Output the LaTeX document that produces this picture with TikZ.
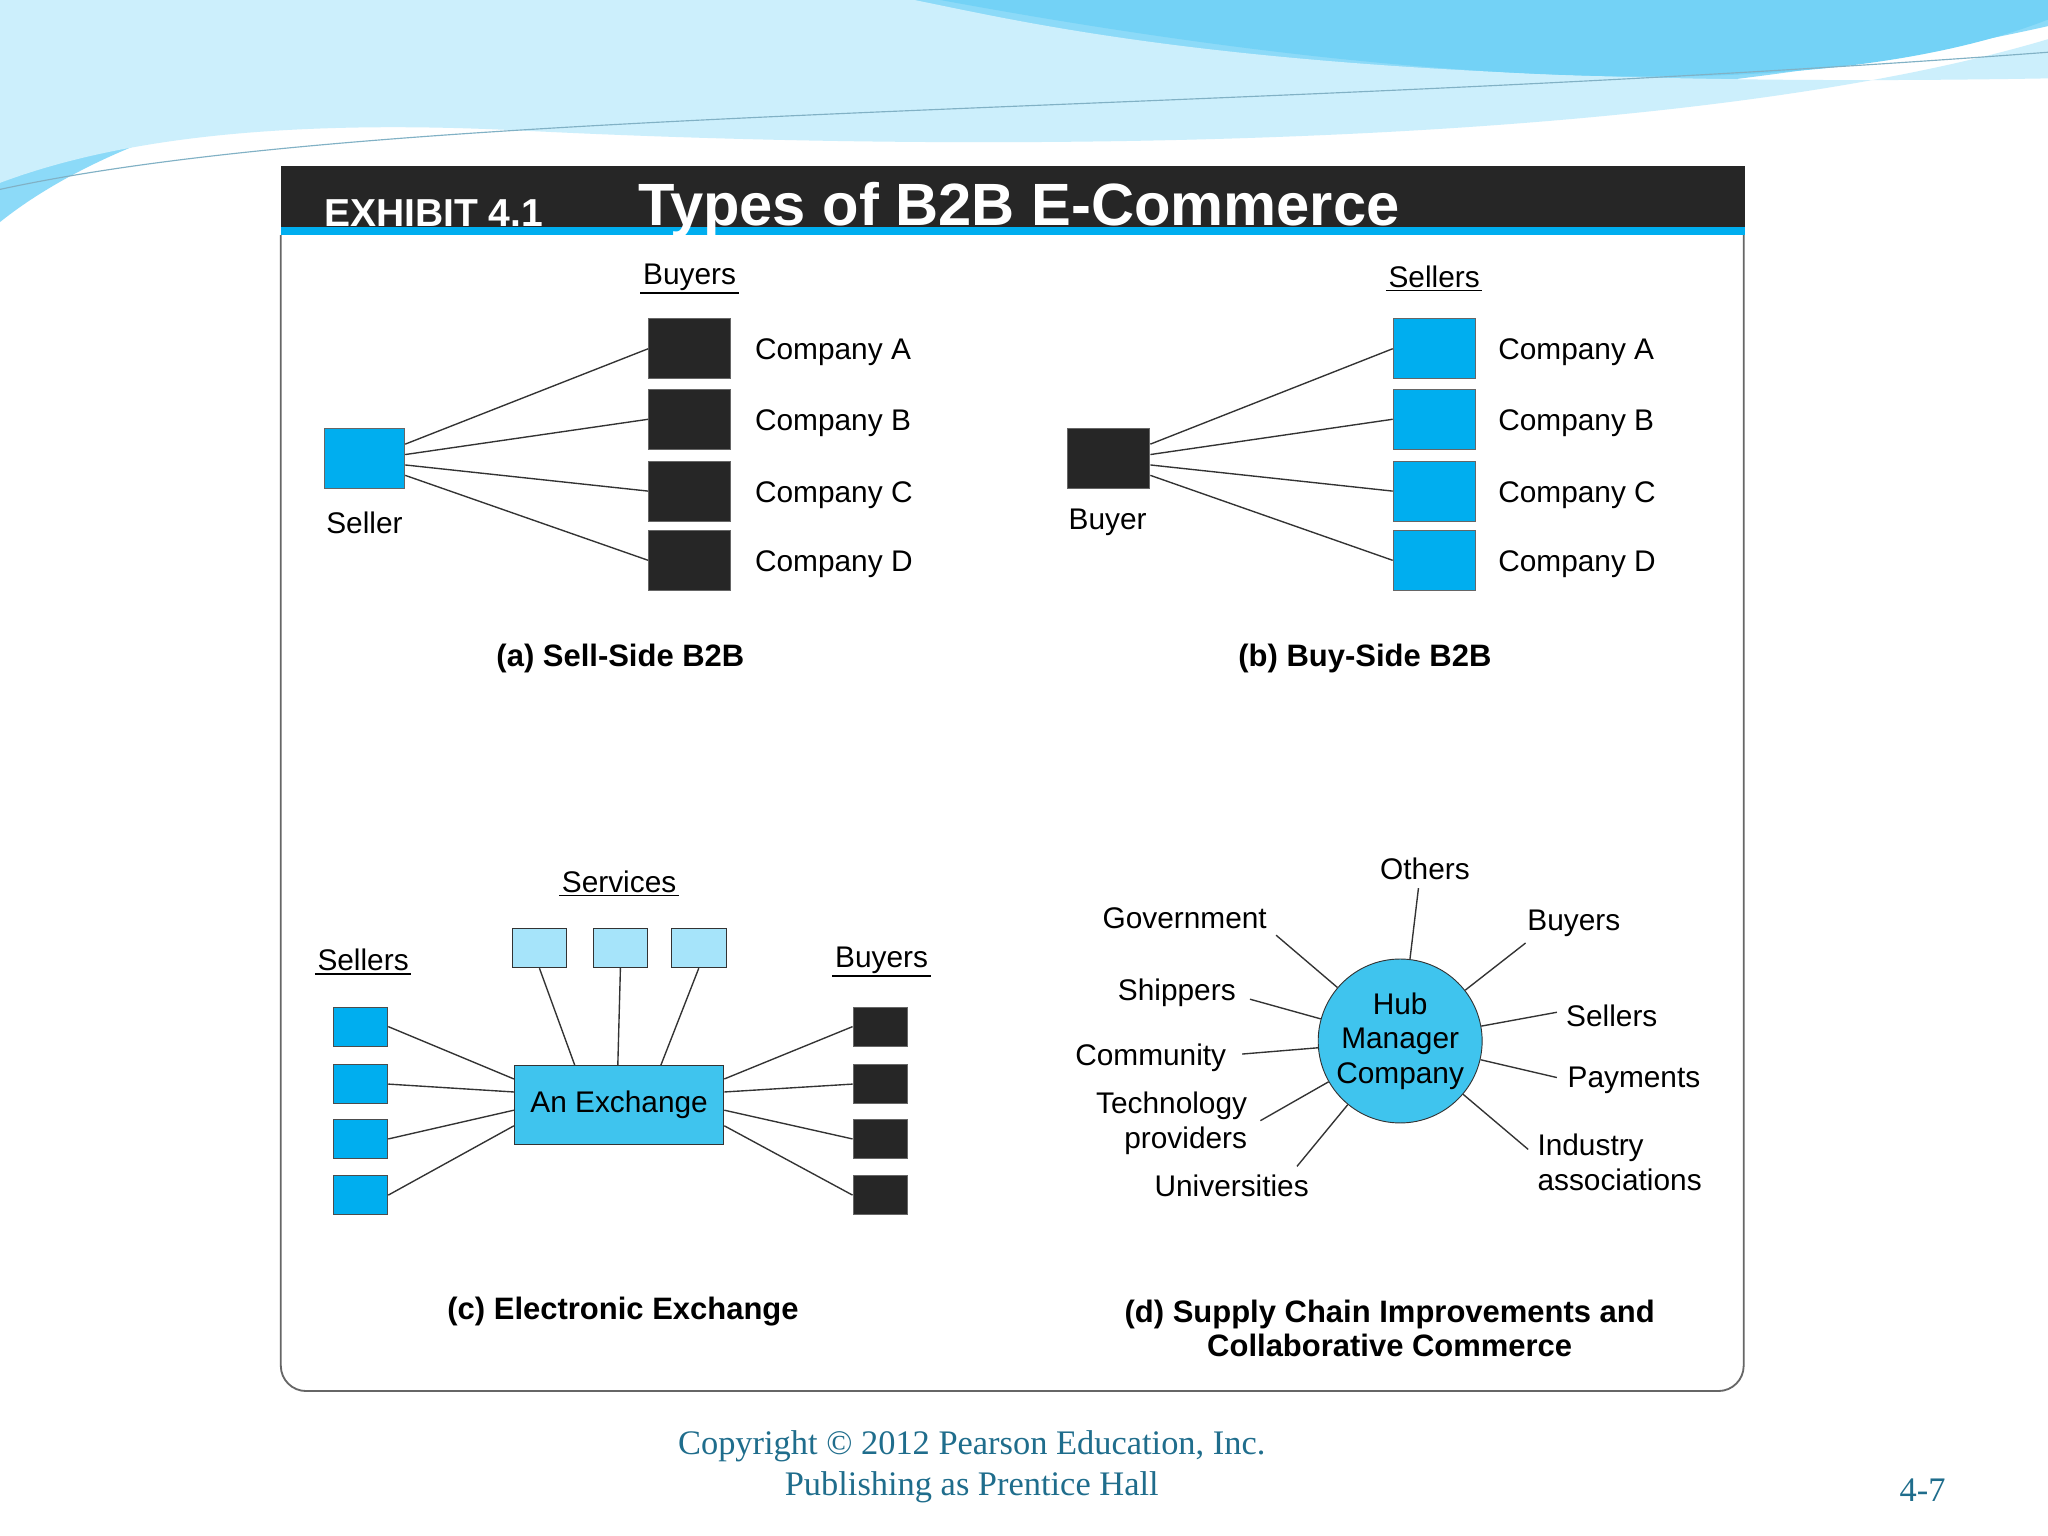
\documentclass[tikz,border=0pt]{standalone}
\usepackage{fontspec}
\setmainfont{Liberation Sans}
\newfontfamily\serif{Liberation Serif}
\usetikzlibrary{positioning}
\definecolor{bblue}{HTML}{00AEEF}
\definecolor{lblue}{HTML}{A6E4FA}
\definecolor{hblue}{HTML}{3FC4EE}
\definecolor{foot}{HTML}{1F6D8C}
\begin{document}
\begin{tikzpicture}[x=0.02cm,y=-0.02cm,
 lab/.style={font=\fontsize{13}{15}\selectfont,inner sep=1pt},
 capt/.style={font=\bfseries\fontsize{13.5}{16}\selectfont,align=center},
 ln/.style={draw=black!80,line width=0.6pt},
 bx/.style={draw=black!60,line width=0.4pt,minimum width=0,minimum height=0,inner sep=0}]
\useasboundingbox (0,0) rectangle (1568,1176);
\fill[white] (0,0) rectangle (1568,1176);
% background waves
\fill[cyan!45!white] (0,0) -- (1568,0) -- (1568,20) .. controls (1300,80) and (900,110) .. (500,60) .. controls (300,40) and (100,90) .. (0,170) -- cycle;
\fill[cyan!20!white] (0,0) -- (700,0) .. controls (800,20) and (1000,70) .. (1568,60) -- (1568,30) .. controls (1300,110) and (800,120) .. (400,100) .. controls (200,90) and (80,110) .. (0,140) -- cycle;
\fill[cyan!55!white] (720,0) -- (1568,0) -- (1568,15) .. controls (1400,80) and (1100,70) .. (720,0) -- cycle;
\draw[cyan!60!black!60,line width=0.5pt] (0,145) .. controls (300,80) and (900,90) .. (1568,40);
% panel
\fill[white] (197,118) rectangle (1350,1080);
\fill[black!85] (215,127) rectangle (1336,175);
\fill[bblue] (215,174) rectangle (1336,180);
\draw[black!60,line width=0.8pt,rounded corners=11pt] (215,180) -- (215,1065) -- (1335,1065) -- (1335,180);
\node[text=white,font=\bfseries\fontsize{17}{20}\selectfont] (exh) at (332,163) {EXHIBIT 4.1};
\node[text=white,font=\bfseries\fontsize{26}{30}\selectfont] (ttl) at (780,161) {Types of B2B E-Commerce};
% (a)
\node[bx,fill=bblue,minimum width=62*0.567pt,minimum height=46*0.567pt] (sa) at (279,351) {};
\node[lab] (sal) at (279,400) {Seller};
\node[lab] (buyA) at (528,212) {Buyers};
\draw[line width=0.7pt] (buyA.south west) -- (buyA.south east);
\foreach \n/\y/\t in {1/267/A,2/321/B,3/376/C,4/429/D}{
 \node[bx,fill=black!85,minimum width=63*0.567pt,minimum height=46*0.567pt] (a\n) at (528,\y) {};
 \node[lab,anchor=west] (al\n) at (576,\y+3) {Company \t};
}
\foreach \n/\s in {1/-11,2/-3,3/5,4/13}{\draw[ln] ([yshift=-\s*0.567pt]sa.east) -- (a\n.west);}
\node[capt] (capa) at (475,504) {(a) Sell-Side B2B};
% (b)
\node[bx,fill=black!85,minimum width=63*0.567pt,minimum height=46*0.567pt] (sb) at (849,351) {};
\node[lab] (sbl) at (848,400) {Buyer};
\node[lab] (selB) at (1098,212) {Sellers};
\draw[line width=0.7pt] (selB.south west) -- (selB.south east);
\foreach \n/\y/\t in {1/267/A,2/321/B,3/376/C,4/429/D}{
 \node[bx,fill=bblue,minimum width=63*0.567pt,minimum height=46*0.567pt] (b\n) at (1098,\y) {};
 \node[lab,anchor=west] (bl\n) at (1145,\y+3) {Company \t};
}
\foreach \n/\s in {1/-11,2/-3,3/5,4/13}{\draw[ln] ([yshift=-\s*0.567pt]sb.east) -- (b\n.west);}
\node[capt] (capb) at (1045,504) {(b) Buy-Side B2B};
% (c)
\node[lab] (serv) at (474,675) {Services};
\draw[line width=0.7pt] (serv.south west) -- (serv.south east);
\node[bx,draw=black!80,fill=hblue,minimum width=161*0.567pt,minimum height=60*0.567pt,font=\fontsize{13}{15}\selectfont] (ex) at (474,846) {An Exchange};
\foreach \n/\x/\t in {1/413/-34,2/475/-1,3/535/32}{
 \node[bx,draw=black!80,fill=lblue,minimum width=42*0.567pt,minimum height=30*0.567pt] (v\n) at (\x,726) {};
 \draw[ln] (v\n.south) -- ([xshift=\t*0.567pt]ex.north);
}
\node[lab] (selC) at (278,735) {Sellers};
\draw[line width=0.7pt] (selC.south west) -- (selC.south east);
\node[lab] (buyC) at (675,735) {Buyers};
\draw[line width=0.7pt] (buyC.south west) -- (buyC.south east);
\foreach \n/\y/\s in {1/786/-20,2/830/-10,3/872/4,4/915/16}{
 \node[bx,draw=black!70,fill=bblue,minimum width=42*0.567pt,minimum height=30*0.567pt] (c\n) at (276,\y) {};
 \node[bx,fill=black!85,minimum width=42*0.567pt,minimum height=30*0.567pt] (d\n) at (674,\y) {};
 \draw[ln] (c\n.east) -- ([yshift=-\s*0.567pt]ex.west);
 \draw[ln] (d\n.west) -- ([yshift=-\s*0.567pt]ex.east);
}
\node[capt] (capc) at (477,1004) {(c) Electronic Exchange};
% (d)
\node[circle,draw=black!80,fill=hblue,minimum size=126*0.567pt,inner sep=0,align=center,font=\fontsize{13}{15}\selectfont] (hub) at (1072,797) {Hub\\Manager\\Company};
\node[lab] (oth) at (1091,665) {Others};
\node[lab] (gov) at (907,703) {Government};
\node[lab] (buyD) at (1205,707) {Buyers};
\node[lab] (shp) at (901,760) {Shippers};
\node[lab] (selD) at (1234,778) {Sellers};
\node[lab] (com) at (881,810) {Community};
\node[lab] (pay) at (1251,827) {Payments};
\node[lab,align=right] (tec) at (897,860) {Technology\\ providers};
\node[lab,align=left] (ind) at (1240,890) {Industry\\associations};
\node[lab] (uni) at (943,908) {Universities};
\coordinate (po) at (1086,680); \coordinate (pg) at (977,716); \coordinate (pb) at (1168,722);
\coordinate (ps) at (957,765); \coordinate (pse) at (1192,775); \coordinate (pc) at (951,807);
\coordinate (pp) at (1192,825); \coordinate (pt) at (965,858); \coordinate (pi) at (1170,880);
\coordinate (pu) at (993,893);
\foreach \p in {po,pg,pb,ps,pse,pc,pp,pt,pi,pu}{\draw[ln] (\p) -- (hub);}
\node[capt,font=\bfseries\fontsize{13.5}{15}\selectfont] (capd) at (1064,1017) {(d) Supply Chain Improvements and\\Collaborative Commerce};
% footer
\node[text=foot,font=\serif\fontsize{15}{18}\selectfont,align=center] (ft) at (744,1123) {Copyright © 2012 Pearson Education, Inc.\\Publishing as Prentice Hall};
\node[text=foot,font=\serif\fontsize{15}{18}\selectfont] (pg47) at (1472,1141) {4-7};
\end{tikzpicture}
\end{document}
